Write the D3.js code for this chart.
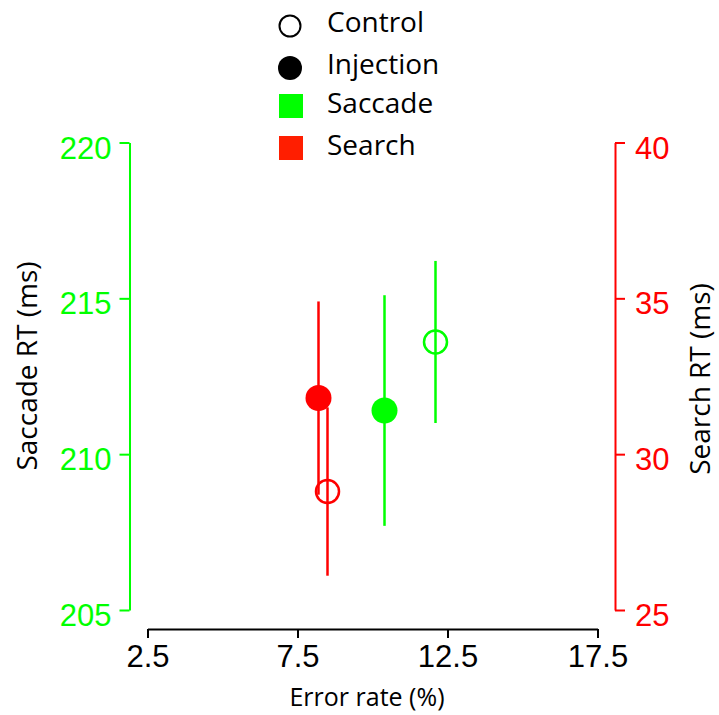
<!DOCTYPE html>
<html>
<head>
<meta charset="utf-8">
<script src="https://cdn.jsdelivr.net/npm/d3@7"></script>
<style>
  body { margin: 0; background: #fff; }
  .tick text { font-family: "Liberation Sans", Arial, sans-serif; font-size: 31px; }
  .title { font-family: "Open Sans", sans-serif; font-size: 28px; fill: #000; }
  .legend-label { font-family: "Open Sans", sans-serif; font-size: 28px; fill: #000; }
</style>
</head>
<body>
<svg id="chart" width="719" height="715"></svg>
<script>
// one entry per plotted point
const pointMeasure = ['Saccade', 'Saccade', 'Search', 'Search'];
const pointGroup = ['Control', 'Injection', 'Control', 'Injection'];
const errorRates = [12.1, 10.4, 8.5, 8.2];
const rtMeans = [213.6, 211.4, 28.8, 31.8];
const rtErrors = [2.6, 3.7, 2.7, 3.1];

const xTicks = [2.5, 7.5, 12.5, 17.5];
const saccadeTicks = [205, 210, 215, 220];
const searchTicks = [25, 30, 35, 40];

const legendGroups = ['Control', 'Injection'];
const legendMeasures = ['Saccade', 'Search'];

const green = '#00ff00';
const red = '#ff0000';

const svg = d3.select('#chart');

const x = d3.scaleLinear().domain([2.5, 17.5]).range([147.5, 597.5]);
const ySaccade = d3.scaleLinear().domain([205, 220]).range([610, 142.5]);
const ySearch = d3.scaleLinear().domain([25, 40]).range([610, 142.5]);

// Left axis (saccade RT)
let leftAxis = svg.append('g')
  .attr('transform', 'translate(129.5,0)')
  .call(d3.axisLeft(ySaccade).tickValues(saccadeTicks).tickFormat(d3.format('d'))
    .tickSize(10).tickSizeOuter(0).tickPadding(8));
leftAxis.select('.domain').attr('stroke', green).attr('stroke-width', 2);
leftAxis.selectAll('.tick line').attr('stroke', green).attr('stroke-width', 2);
leftAxis.selectAll('.tick text').attr('fill', green).attr('dy', '0.5em');

// Right axis (search RT)
let rightAxis = svg.append('g')
  .attr('transform', 'translate(615,0)')
  .call(d3.axisRight(ySearch).tickValues(searchTicks).tickFormat(d3.format('d'))
    .tickSize(10).tickSizeOuter(0).tickPadding(10));
rightAxis.select('.domain').attr('stroke', red).attr('stroke-width', 2);
rightAxis.selectAll('.tick line').attr('stroke', red).attr('stroke-width', 2);
rightAxis.selectAll('.tick text').attr('fill', red).attr('dy', '0.5em');

// Bottom axis (error rate)
let bottomAxis = svg.append('g')
  .attr('transform', 'translate(0,629)')
  .call(d3.axisBottom(x).tickValues(xTicks).tickFormat(d3.format('.1f'))
    .tickSize(9).tickSizeOuter(0).tickPadding(7));
bottomAxis.select('.domain').attr('stroke', '#000').attr('stroke-width', 2);
bottomAxis.selectAll('.tick line').attr('stroke', '#000').attr('stroke-width', 2);
bottomAxis.selectAll('.tick text').attr('fill', '#000');

// Axis titles
svg.append('text')
  .attr('class', 'title')
  .attr('text-anchor', 'middle')
  .attr('transform', 'translate(37,366) rotate(-90)')
  .text('Saccade RT (ms)');

svg.append('text')
  .attr('class', 'title')
  .attr('text-anchor', 'middle')
  .attr('transform', 'translate(710,379) rotate(-90)')
  .text('Search RT (ms)');

svg.append('text')
  .attr('class', 'title')
  .attr('text-anchor', 'middle')
  .attr('x', 367)
  .attr('y', 706)
  .style('font-size', '25px')
  .text('Error rate (%)');

// Points with error bars
const points = errorRates.map((e, i) => ({
  x: e,
  mean: rtMeans[i],
  err: rtErrors[i],
  measure: pointMeasure[i],
  group: pointGroup[i]
}));

function yFor(d, v) {
  return d.measure === 'Saccade' ? ySaccade(v) : ySearch(v);
}
function colorFor(d) {
  return d.measure === 'Saccade' ? green : red;
}

svg.append('g').selectAll('line')
  .data(points)
  .join('line')
  .attr('x1', d => x(d.x))
  .attr('x2', d => x(d.x))
  .attr('y1', d => yFor(d, d.mean - d.err))
  .attr('y2', d => yFor(d, d.mean + d.err))
  .attr('stroke', colorFor)
  .attr('stroke-width', 2.5);

svg.append('g').selectAll('circle')
  .data(points)
  .join('circle')
  .attr('cx', d => x(d.x))
  .attr('cy', d => yFor(d, d.mean))
  .attr('r', d => d.group === 'Control' ? 11.5 : 13)
  .attr('fill', d => d.group === 'Control' ? 'none' : colorFor(d))
  .attr('stroke', d => d.group === 'Control' ? colorFor(d) : 'none')
  .attr('stroke-width', 2.5);

// Legend
const legendRows = [32, 74, 113, 155];
const legend = svg.append('g');

legendGroups.forEach((g, i) => {
  legend.append('circle')
    .attr('cx', 290)
    .attr('cy', legendRows[i] - 6)
    .attr('r', g === 'Control' ? 10.5 : 12)
    .attr('fill', g === 'Control' ? 'none' : '#000')
    .attr('stroke', g === 'Control' ? '#000' : 'none')
    .attr('stroke-width', 2);
  legend.append('text')
    .attr('class', 'legend-label')
    .attr('x', 327)
    .attr('y', legendRows[i])
    .text(g);
});

legendMeasures.forEach((m, i) => {
  legend.append('rect')
    .attr('x', 279)
    .attr('y', legendRows[i + 2] - 19)
    .attr('width', 24)
    .attr('height', 24)
    .attr('fill', m === 'Saccade' ? green : '#ff1e00');
  legend.append('text')
    .attr('class', 'legend-label')
    .attr('x', 327)
    .attr('y', legendRows[i + 2])
    .text(m);
});
</script>
</body>
</html>
